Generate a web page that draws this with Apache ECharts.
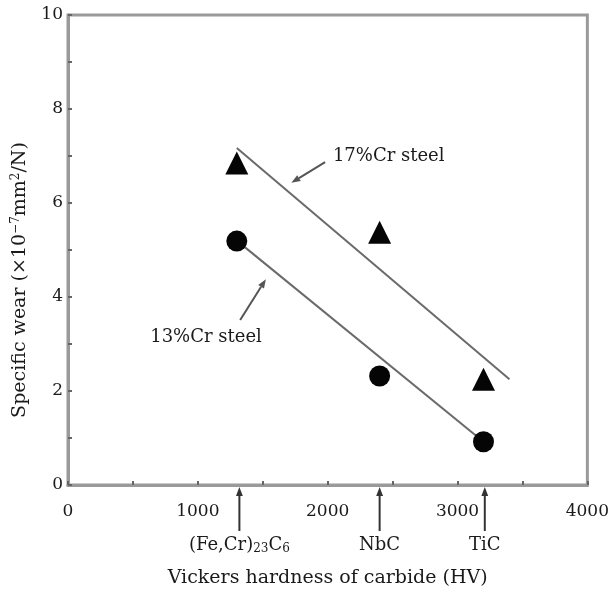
<!DOCTYPE html>
<html><head><meta charset="utf-8">
<script src="https://cdn.jsdelivr.net/npm/echarts@6/dist/echarts.min.js"></script>
<style>html,body{margin:0;padding:0;background:#fff}#c{width:612px;height:592px}</style>
</head><body><div id="c"></div>
<script>
// ---- data ----
const hv13 = [1300, 2400, 3200];
const wear13 = [5.19, 2.32, 0.92];
const hv17 = [1300, 2400, 3200];
const wear17 = [6.85, 5.38, 2.25];
const fit13X = [1300, 3200];
const fit13Y = [5.2, 0.92];
const fit17X = [1300, 3400];
const fit17Y = [7.17, 2.25];
const carbideNames = ['(Fe,Cr){s|23}C{s|6}', 'NbC', 'TiC'];
const carbideHV = [1320, 2400, 3210];
const note17Text = '17%Cr steel';
const note17Pos = [2040, 7.0];
const note17Arrow = [[1980, 6.87], [1720, 6.43]];
const note13Text = '13%Cr steel';
const note13Pos = [1063, 3.15];
const note13Arrow = [[1326, 3.51], [1524, 4.38]];
const xTitle = 'Vickers hardness of carbide (HV)';
const yTitle = 'Specific wear (×10{sup|−7}mm{sup|2}/N)';

const FONT = 'DejaVu Serif';
const TXT = '#1a1a1a';
const chart = echarts.init(document.getElementById('c'));
chart.setOption({
  animation: false,
  backgroundColor: '#fff',
  grid: {left: 68, right: 19, top: 15, bottom: 107, show: true, borderColor: '#9a9a9a', borderWidth: 3},
  xAxis: {
    type: 'value', min: 0, max: 4000, interval: 500,
    axisLine: {show: true, lineStyle: {color: '#9a9a9a', width: 3}},
    axisTick: {show: true, inside: true, length: 4, lineStyle: {color: '#666', width: 2}},
    splitLine: {show: false},
    axisLabel: {margin: 18, color: TXT, fontFamily: FONT, fontSize: 17,
      formatter: v => (v % 1000 === 0 ? String(v) : '')}
  },
  yAxis: {
    type: 'value', min: 0, max: 10, interval: 1,
    axisLine: {show: true, lineStyle: {color: '#9a9a9a', width: 3}},
    axisTick: {show: true, inside: true, length: 4, lineStyle: {color: '#666', width: 2}},
    splitLine: {show: false},
    axisLabel: {margin: 5, color: TXT, fontFamily: FONT, fontSize: 17,
      formatter: v => (v % 2 === 0 ? String(v) : '')}
  },
  series: [
    {type: 'line', data: fit13X.map((x, i) => [x, fit13Y[i]]), showSymbol: false, symbol: 'none',
      lineStyle: {color: '#6a6a6a', width: 2}, silent: true, z: 1},
    {type: 'line', data: fit17X.map((x, i) => [x, fit17Y[i]]), showSymbol: false, symbol: 'none',
      lineStyle: {color: '#6a6a6a', width: 2}, silent: true, z: 1},
    {type: 'scatter', data: hv13.map((x, i) => [x, wear13[i]]), symbol: 'circle', symbolSize: 21,
      itemStyle: {color: '#050505', opacity: 1}, z: 3},
    {type: 'scatter', data: hv17.map((x, i) => [x, wear17[i]]), symbol: 'triangle', symbolSize: 23,
      itemStyle: {color: '#050505', opacity: 1}, z: 3}
  ]
});

function px(p) { return chart.convertToPixel({gridIndex: 0}, p); }
function arrow(a, b, color, head, w) {
  const dx = b[0] - a[0], dy = b[1] - a[1];
  const L = Math.sqrt(dx * dx + dy * dy), ux = dx / L, uy = dy / L;
  const bx = b[0] - ux * head, by = b[1] - uy * head;
  const nx = -uy * head * 0.38, ny = ux * head * 0.38;
  return [
    {type: 'line', shape: {x1: a[0], y1: a[1], x2: bx, y2: by}, style: {stroke: color, lineWidth: w}},
    {type: 'polygon', shape: {points: [[b[0], b[1]], [bx + nx, by + ny], [bx - nx, by - ny]]}, style: {fill: color}}
  ];
}
const g = [];
// carbide arrows below axis
carbideHV.forEach((hv, i) => {
  const p = px([hv, 0]);
  g.push(...arrow([p[0], p[1] + 46], [p[0], p[1] + 2], '#333', 9, 2));
  g.push({type: 'text', x: p[0], y: p[1] + 60, style: {text: carbideNames[i], fill: TXT, font: '18px "' + FONT + '"',
    align: 'center', verticalAlign: 'middle',
    rich: {s: {fontSize: 12, fontFamily: FONT, fill: TXT, verticalAlign: 'bottom', padding: [8, 0, 0, 0]}}}});
});
// annotations
[[note17Arrow, note17Text, note17Pos, 'left'], [note13Arrow, note13Text, note13Pos, 'center']].forEach(([ar, t, pos, al]) => {
  g.push(...arrow(px(ar[0]), px(ar[1]), '#555', 9, 2));
  const p = px(pos);
  g.push({type: 'text', x: p[0], y: p[1], style: {text: t, fill: TXT, font: '18px "' + FONT + '"', align: al, verticalAlign: 'middle'}});
});
// axis titles
const xc = (px([0, 0])[0] + px([4000, 0])[0]) / 2;
g.push({type: 'text', x: xc, y: 578, style: {text: xTitle, fill: TXT, font: '19px "' + FONT + '"', align: 'center', verticalAlign: 'middle'}});
g.push({type: 'text', x: 20, y: 280, rotation: Math.PI / 2, style: {text: yTitle, fill: TXT, font: '19px "' + FONT + '"',
  align: 'center', verticalAlign: 'middle',
  rich: {sup: {fontSize: 12, fontFamily: FONT, fill: TXT, padding: [0, 0, 9, 0]}}}});
chart.setOption({graphic: g.map(e => Object.assign({silent: true, z: 10}, e))});
</script></body></html>
